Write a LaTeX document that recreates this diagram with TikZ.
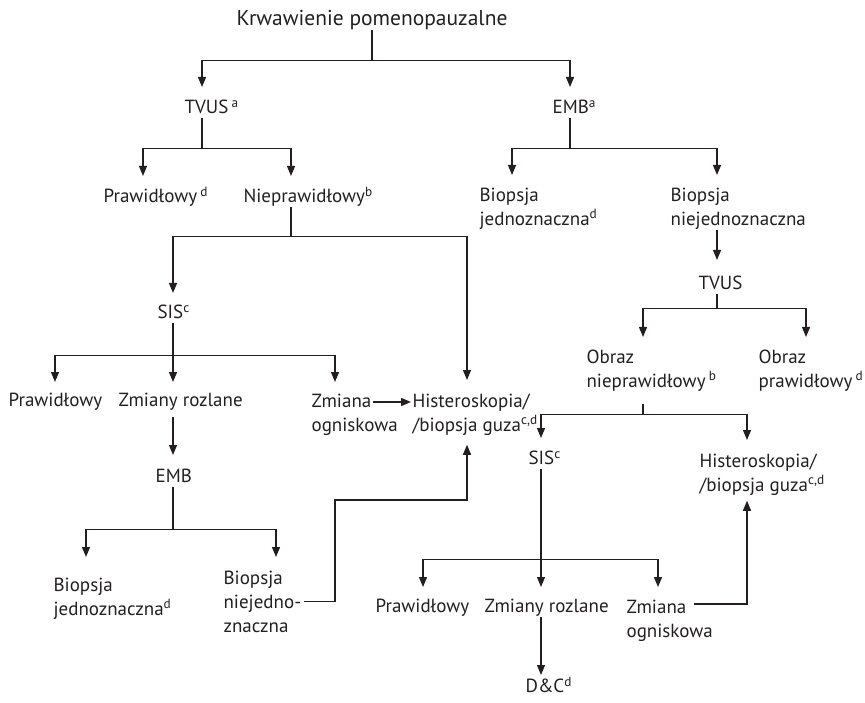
\documentclass[tikz,border=0pt]{standalone}
\usepackage{fontspec}
\setmainfont{PT Sans}
\usetikzlibrary{arrows.meta,calc}
\definecolor{ink}{RGB}{35,31,32}

\begin{document}
\begin{tikzpicture}[x=1pt, y=-1pt, >={Triangle[length=10pt,width=8pt]}, line width=1.2pt, color=ink,
    lbl/.style={inner sep=0pt, anchor=north west, text height=13pt, text depth=4pt, font=\fontsize{19}{24}\selectfont},
    mlbl/.style={inner sep=0pt, anchor=north west, align=left, font=\fontsize{19}{24}\selectfont},
    arr/.style={->, shorten >=13pt}]
    \useasboundingbox (0,0) rectangle (865,703);

    % Korzeń i pierwszy poziom
    \node[lbl, anchor=north, text height=15pt, font=\fontsize{21.5}{26}\selectfont] (root) at (372,10) {Krwawienie pomenopauzalne};
    \node[lbl] (tvusA) at (184,100) {TVUS\,\textsuperscript{a}};
    \node[lbl] (embA) at (552,100) {EMB\textsuperscript{a}};

    % Gałąź TVUS
    \node[lbl] (prawA) at (103,189) {Prawidłowy\,\textsuperscript{d}};
    \node[lbl] (nprawA) at (243,189) {Nieprawidłowy\textsuperscript{b}};
    \node[lbl] (sisA) at (157,305) {SIS\textsuperscript{c}};
    \node[mlbl] (histA) at (412,393) {Histeroskopia/\\/biopsja guza\textsuperscript{c,d}};
    \node[lbl] (prawB) at (8,393) {Prawidłowy};
    \node[lbl] (zmrB) at (118,393) {Zmiany rozlane};
    \node[mlbl] (zogB) at (311,393) {Zmiana\\ogniskowa};
    \node[lbl] (embB) at (155,469) {EMB};
    \node[mlbl] (bjedB) at (53,577) {Biopsja\\jednoznaczna\textsuperscript{d}};
    \node[mlbl] (bniejB) at (223,570) {Biopsja\\niejedno-\\znaczna};

    % Gałąź EMB
    \node[mlbl] (bjedA) at (479,187) {Biopsja\\jednoznaczna\textsuperscript{d}};
    \node[mlbl] (bniejA) at (670,187) {Biopsja\\niejednoznaczna};
    \node[lbl] (tvusB) at (698,276) {TVUS};
    \node[mlbl] (obrNA) at (586,349) {Obraz\\nieprawidłowy\,\textsuperscript{b}};
    \node[mlbl] (obrPA) at (758,349) {Obraz\\prawidłowy\,\textsuperscript{d}};
    \node[lbl] (sisB) at (528,451) {SIS\textsuperscript{c}};
    \node[mlbl] (histB) at (699,453) {Histeroskopia/\\/biopsja guza\textsuperscript{c,d}};
    \node[lbl] (prawC) at (375,599) {Prawidłowy};
    \node[lbl] (zmrC) at (484,599) {Zmiany rozlane};
    \node[mlbl] (zogC) at (626,599) {Zmiana\\ogniskowa};
    \node[lbl] (dc) at (525,679) {D\&C\textsuperscript{d}};

    % Rozgałęzienia
    \coordinate (k0) at ($(root.south)+(0,30)$);
    \coordinate (k1) at ($([xshift=18pt]tvusA.south west)+(0,30)$);
    \coordinate (k2) at ($([xshift=48pt]nprawA.south west)+(0,29)$);
    \coordinate (k3) at ($([xshift=18pt]embA.south west)+(0,30)$);
    \coordinate (k4) at ($([xshift=19pt]tvusB.south west)+(0,14)$);
    \coordinate (k5) at ($([xshift=57pt]obrNA.south west)+(0,23)$);
    \coordinate (k6) at ($([xshift=16pt]sisA.south west)+(0,32)$);
    \coordinate (k7) at ($([xshift=18pt]embB.south west)+(0,42)$);
    \coordinate (k8) at ($(bniejB.north west)+(112,-70)$);
    \coordinate (k10) at ($([xshift=13pt]sisB.south west)+(0,90)$);

    % Strzałki
    \draw[arr] (root.south) -- (k0) -| ([xshift=18pt]tvusA.north west);
    \draw[arr] (k0) -| ([xshift=18pt]embA.north west);
    \draw ([xshift=18pt]tvusA.south west) -- (k1);
    \draw[arr] (k1) -| ([xshift=40pt]prawA.north west);
    \draw[arr] (k1) -| ([xshift=48pt]nprawA.north west);
    \draw ([xshift=48pt]nprawA.south west) -- (k2);
    \draw[arr, shorten >=12pt] (k2) -| ([xshift=16pt]sisA.north west);
    \draw[arr] (k2) -| ([xshift=55pt]histA.north west);
    \draw[arr, shorten >=11pt] ([xshift=16pt]sisA.south west) -- ([xshift=55pt]zmrB.north west);
    \draw[arr, shorten >=11pt] (k6) -| ([xshift=47pt]prawB.north west);
    \draw[arr, shorten >=11pt] (k6) -| ([xshift=24pt]zogB.north west);
    \draw[arr, shorten >=1pt] ([xshift=62pt,yshift=-9pt]zogB.north west) -- ([yshift=-9pt]histA.north west);
    \draw[arr, shorten <=6pt, shorten >=14pt] ([xshift=55pt]zmrB.south west) -- ([xshift=18pt]embB.north west);
    \draw ([xshift=18pt]embB.south west) -- (k7);
    \draw[arr, shorten >=20pt] (k7) -| ([xshift=33pt]bjedB.north west);
    \draw[arr] (k7) -| ([xshift=53pt]bniejB.north west);
    \draw[arr, shorten <=2pt, shorten >=9pt] (bniejB.east) -| (k8) -| ([xshift=55pt]histA.south west);

    \draw ([xshift=18pt]embA.south west) -- (k3);
    \draw[arr, shorten >=12pt] (k3) -| ([xshift=33pt]bjedA.north west);
    \draw[arr, shorten >=12pt] (k3) -| ([xshift=47pt]bniejA.north west);
    \draw[arr, shorten >=16pt] ([xshift=47pt]bniejA.south west) -- ([xshift=19pt]tvusB.north west);
    \draw ([xshift=19pt]tvusB.south west) -- (k4);
    \draw[arr, shorten >=12pt] (k4) -| ([xshift=57pt]obrNA.north west);
    \draw[arr, shorten >=12pt] (k4) -| ([xshift=48pt]obrPA.north west);
    \draw[shorten <=12pt] ([xshift=57pt]obrNA.south west) -- (k5);
    \draw[arr] (k5) -| ([xshift=13pt]sisB.north west);
    \draw[arr] (k5) -| ([xshift=48pt]histB.north west);
    \draw[arr, shorten >=12pt] ([xshift=13pt]sisB.south west) -- ([xshift=57pt]zmrC.north west);
    \draw[arr, shorten >=12pt] (k10) -| ([xshift=48pt]prawC.north west);
    \draw[arr, shorten >=12pt] (k10) -| ([xshift=32pt]zogC.north west);
    \draw[arr, shorten >=4pt] ([xshift=57pt]zmrC.south west) -- ([xshift=16pt]dc.north west);
    \draw[arr, shorten >=5pt] ([xshift=68pt,yshift=-5pt]zogC.north west) -| ([xshift=48pt]histB.south west);
\end{tikzpicture}
\end{document}
